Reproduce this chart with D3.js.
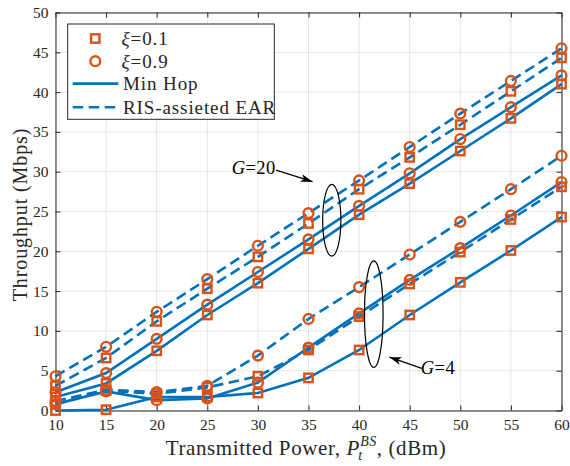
<!DOCTYPE html>
<html>
<head>
<meta charset="utf-8">
<script src="https://cdn.jsdelivr.net/npm/d3@7"></script>
<style>
  html, body { margin: 0; padding: 0; background: #fff; }
  svg { display: block; }
  text { font-family: "Liberation Serif", "Times New Roman", serif; fill: #262626; }
</style>
</head>
<body>
<svg id="chart" width="570" height="466"></svg>
<script>
// Transmitted power (dBm)
const power = [10, 15, 20, 25, 30, 35, 40, 45, 50, 55, 60];

// Throughput (Mbps), G = 20
const g20EarXi09 = [4.3, 8.0, 12.4, 16.5, 20.7, 24.8, 28.9, 33.1, 37.3, 41.4, 45.5];
const g20EarXi01 = [3.1, 6.6, 11.2, 15.3, 19.3, 23.5, 27.8, 31.8, 35.9, 40.1, 44.3];
const g20HopXi09 = [2.3, 4.7, 9.0, 13.3, 17.4, 21.5, 25.7, 29.8, 34.1, 38.1, 42.1];
const g20HopXi01 = [1.7, 3.4, 7.5, 12.0, 16.0, 20.3, 24.6, 28.5, 32.6, 36.7, 41.0];

// Throughput (Mbps), G = 4
const g4EarXi09 = [1.2, 2.6, 2.3, 3.1, 6.9, 11.5, 15.5, 19.6, 23.7, 27.8, 32.0];
const g4EarXi01 = [0.8, 2.5, 2.1, 2.9, 4.3, 7.6, 11.8, 15.9, 19.9, 24.0, 28.1];
const g4HopXi09 = [0.8, 2.4, 1.3, 1.5, 3.5, 7.9, 12.2, 16.4, 20.4, 24.5, 28.7];
const g4HopXi01 = [0.0, 0.1, 1.7, 1.7, 2.2, 4.1, 7.6, 12.0, 16.1, 20.1, 24.3];

const xTicks = [10, 15, 20, 25, 30, 35, 40, 45, 50, 55, 60];
const yTicks = [0, 5, 10, 15, 20, 25, 30, 35, 40, 45, 50];

const legendLabels = ["\u03BE=0.1", "\u03BE=0.9", "Min Hop", "RIS-assieted EAR"];

const series = [
  { values: g20EarXi09, dashed: true,  marker: "circle" },
  { values: g20EarXi01, dashed: true,  marker: "square" },
  { values: g20HopXi09, dashed: false, marker: "circle" },
  { values: g20HopXi01, dashed: false, marker: "square" },
  { values: g4EarXi09,  dashed: true,  marker: "circle" },
  { values: g4EarXi01,  dashed: true,  marker: "square" },
  { values: g4HopXi09,  dashed: false, marker: "circle" },
  { values: g4HopXi01,  dashed: false, marker: "square" }
];

// Group annotations: ellipse centre/radii in data units, arrow tail -> tip
const groupNotes = [
  { label: "20", cx: 37.3, cy: 23.9, rx: 0.9, ry: 4.5,
    tail: [31.8, 30.2], tip: [35.4, 28.75], textAt: [31.75, 29.7], anchor: "end" },
  { label: "4", cx: 41.45, cy: 12.1, rx: 0.92, ry: 6.7,
    tail: [46.2, 5.3], tip: [43.0, 6.7], textAt: [46.1, 4.6], anchor: "start" }
];

const BLUE = "#0072BD", ORANGE = "#D95319", AXIS = "#262626", GRID = "#e5e5e5";

const svg = d3.select("#chart");
const L = 55.5, R = 561.5, T = 12.5, B = 410.5;

const x = d3.scaleLinear().domain([10, 60]).range([L, R]);
const y = d3.scaleLinear().domain([0, 50]).range([B, T]);

// grid
const grid = svg.append("g");
grid.selectAll(".gx").data(xTicks).join("line")
  .attr("x1", d => x(d)).attr("x2", d => x(d)).attr("y1", T).attr("y2", B)
  .attr("stroke", GRID).attr("stroke-width", 1);
grid.selectAll(".gy").data(yTicks).join("line")
  .attr("y1", d => y(d)).attr("y2", d => y(d)).attr("x1", L).attr("x2", R)
  .attr("stroke", GRID).attr("stroke-width", 1);

// axes (ticks inward on all four sides)
const tickLen = 5;
const axB = svg.append("g").attr("transform", `translate(0,${B})`)
  .call(d3.axisBottom(x).tickValues(xTicks).tickSizeInner(-tickLen).tickSizeOuter(0).tickPadding(8));
const axT = svg.append("g").attr("transform", `translate(0,${T})`)
  .call(d3.axisTop(x).tickValues(xTicks).tickSizeInner(-tickLen).tickSizeOuter(0).tickFormat(""));
const axL = svg.append("g").attr("transform", `translate(${L},0)`)
  .call(d3.axisLeft(y).tickValues(yTicks).tickSizeInner(-tickLen).tickSizeOuter(0).tickPadding(7));
const axR = svg.append("g").attr("transform", `translate(${R},0)`)
  .call(d3.axisRight(y).tickValues(yTicks).tickSizeInner(-tickLen).tickSizeOuter(0).tickFormat(""));
[axB, axT, axL, axR].forEach(a => {
  a.select(".domain").attr("stroke", AXIS).attr("stroke-width", 1);
  a.selectAll(".tick line").attr("stroke", AXIS).attr("stroke-width", 1);
  a.selectAll("text").attr("font-family", "Liberation Serif").attr("font-size", 15.5).attr("fill", AXIS);
});

// lines
const line = d3.line().x((d, i) => x(power[i])).y(d => y(d));
const plot = svg.append("g");
series.forEach(s => {
  plot.append("path").datum(s.values)
    .attr("d", line).attr("fill", "none")
    .attr("stroke", BLUE).attr("stroke-width", 2.6)
    .attr("stroke-dasharray", s.dashed ? "10.5,5.5" : null);
});

// markers
function drawMarker(g, kind, cx, cy) {
  if (kind === "circle") {
    g.append("circle").attr("cx", cx).attr("cy", cy).attr("r", 4.9)
      .attr("fill", "none").attr("stroke", ORANGE).attr("stroke-width", 2.4);
  } else {
    g.append("rect").attr("x", cx - 4.2).attr("y", cy - 4.2)
      .attr("width", 8.4).attr("height", 8.4)
      .attr("fill", "none").attr("stroke", ORANGE).attr("stroke-width", 2.4);
  }
}
series.forEach(s => {
  s.values.forEach((v, i) => drawMarker(plot, s.marker, x(power[i]), y(v)));
});

// group annotations
const defs = svg.append("defs");
defs.append("marker").attr("id", "arrowhead")
  .attr("viewBox", "0 0 12 8").attr("refX", 12).attr("refY", 4)
  .attr("markerWidth", 12).attr("markerHeight", 8).attr("markerUnits", "userSpaceOnUse")
  .attr("orient", "auto")
  .append("path").attr("d", "M0,0 L12,4 L0,8 L3,4 Z").attr("fill", "#000");

const notes = svg.append("g");
groupNotes.forEach(n => {
  notes.append("ellipse")
    .attr("cx", x(n.cx)).attr("cy", y(n.cy))
    .attr("rx", x(n.cx + n.rx) - x(n.cx)).attr("ry", y(n.cy) - y(n.cy + n.ry))
    .attr("fill", "none").attr("stroke", "#000").attr("stroke-width", 1.2);
  notes.append("line")
    .attr("x1", x(n.tail[0])).attr("y1", y(n.tail[1]))
    .attr("x2", x(n.tip[0])).attr("y2", y(n.tip[1]))
    .attr("stroke", "#000").attr("stroke-width", 1.2)
    .attr("marker-end", "url(#arrowhead)");
  const t = notes.append("text")
    .attr("x", x(n.textAt[0])).attr("y", y(n.textAt[1]))
    .attr("text-anchor", n.anchor).attr("font-size", 18.5).style("fill", "#000")
    .attr("letter-spacing", 0.4);
  t.append("tspan").attr("font-style", "italic").text("G");
  t.append("tspan").text("=" + n.label);
});

// legend
const lg = svg.append("g");
lg.append("rect").attr("x", 67.7).attr("y", 24).attr("width", 206.6).attr("height", 95.3)
  .attr("fill", "#fff").attr("stroke", AXIS).attr("stroke-width", 1);
const rowY = [38.5, 61.2, 83.6, 107.2];
drawMarker(lg, "square", 95.3, rowY[0]);
drawMarker(lg, "circle", 95.3, rowY[1]);
lg.append("line").attr("x1", 72.7).attr("x2", 118.3).attr("y1", rowY[2]).attr("y2", rowY[2])
  .attr("stroke", BLUE).attr("stroke-width", 2.6);
lg.append("line").attr("x1", 72.7).attr("x2", 118.3).attr("y1", rowY[3]).attr("y2", rowY[3])
  .attr("stroke", BLUE).attr("stroke-width", 2.6).attr("stroke-dasharray", "10.5,5.5");
legendLabels.forEach((lab, i) => {
  const t = lg.append("text").attr("x", i < 2 ? 121.5 : 123)
    .attr("y", rowY[i]).attr("dy", "0.35em").attr("font-size", 19)
    .attr("letter-spacing", 0.9);
  if (i < 2) {
    t.append("tspan").attr("font-style", "italic").text(lab.slice(0, 1));
    t.append("tspan").text(lab.slice(1));
  } else {
    t.text(lab);
  }
});

// axis titles
svg.append("text")
  .attr("transform", `translate(27,${(T + B) / 2 + 3}) rotate(-90)`)
  .attr("text-anchor", "middle").attr("font-size", 20).attr("letter-spacing", 0.9)
  .text("Throughput (Mbps)");

// x title with stacked sub/superscript on P
const xt = svg.append("g");
const base = 455;
const fs = 21;
const ls = 0.6;
const part1 = xt.append("text").attr("y", base).attr("font-size", fs).attr("letter-spacing", ls)
  .text("Transmitted Power,\u00A0");
const pP = xt.append("text").attr("y", base).attr("font-size", fs).attr("font-style", "italic").text("P");
const pSub = xt.append("text").attr("y", base + 5).attr("font-size", 14).attr("font-style", "italic").text("t");
const pSup = xt.append("text").attr("y", base - 9).attr("font-size", 14).attr("font-style", "italic")
  .attr("letter-spacing", 0.5).text("BS");
const part2 = xt.append("text").attr("y", base).attr("font-size", fs).attr("letter-spacing", ls)
  .text(",\u00A0(dBm)");
const w1 = part1.node().getComputedTextLength();
const wP = pP.node().getComputedTextLength();
const wSup = pSup.node().getComputedTextLength();
const w2 = part2.node().getComputedTextLength();
const total = w1 + wP + 1 + wSup + w2;
const cx0 = 306 - total / 2;
part1.attr("x", cx0);
pP.attr("x", cx0 + w1);
pSub.attr("x", cx0 + w1 + wP - 1);
pSup.attr("x", cx0 + w1 + wP + 1);
part2.attr("x", cx0 + w1 + wP + 1 + wSup);
</script>
</body>
</html>
